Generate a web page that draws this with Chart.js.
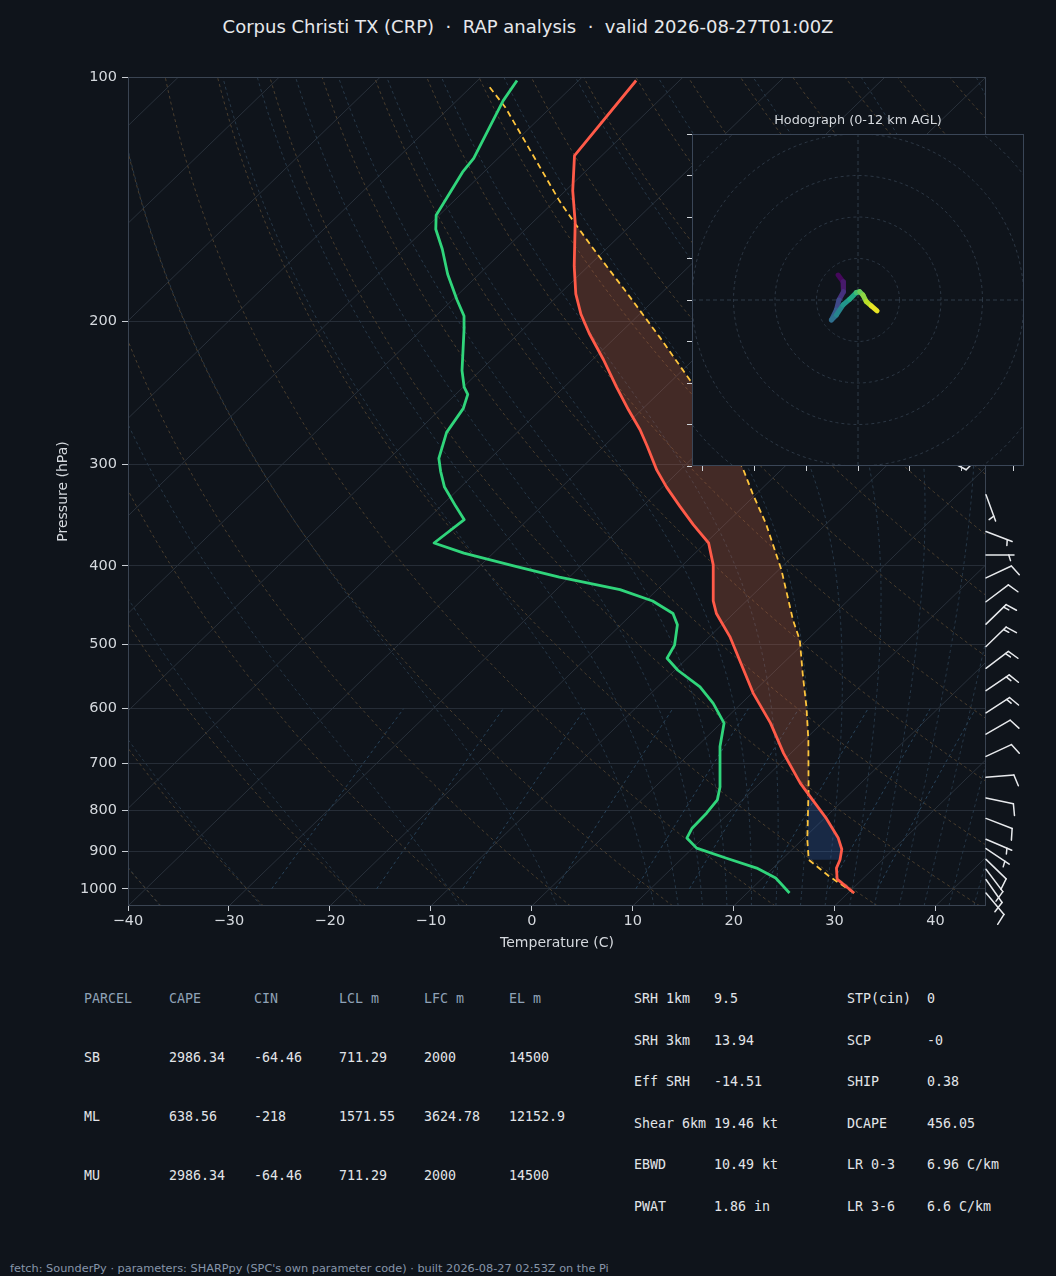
<!DOCTYPE html>
<html>
<head>
<meta charset="utf-8">
<script src="https://cdn.jsdelivr.net/npm/chart.js@4.4.1/dist/chart.umd.min.js"></script>
<style>
  html,body{margin:0;padding:0;background:#0f141b;}
  body{width:1056px;height:1276px;position:relative;overflow:hidden;font-family:"DejaVu Sans",sans-serif;}
  .t{position:absolute;white-space:pre;line-height:16px;}
  .mono{font-family:"DejaVu Sans Mono",monospace;font-size:13.3px;}
  canvas{position:absolute;}
</style>
</head>
<body>
<div id="title" class="t" style="left:0;width:1056px;text-align:center;top:16px;line-height:22px;font-size:18px;color:#e6e8eb;">Corpus Christi TX (CRP)  ·  RAP analysis  ·  valid 2026-08-27T01:00Z</div>
<canvas id="skew" width="1056" height="960" style="left:0;top:0;width:1056px;height:960px;"></canvas>
<div id="hodoTitle" class="t" style="left:692px;width:332px;text-align:center;top:112px;font-size:12.8px;color:#d5d9de;">Hodograph (0-12 km AGL)</div>
<canvas id="hodo" width="400" height="380" style="left:652px;top:110px;width:400px;height:380px;"></canvas>
<div id="tables"></div>
<div id="footer" class="t" style="left:10px;top:1262px;line-height:14px;font-size:11.3px;color:#8796aa;">fetch: SounderPy · parameters: SHARPpy (SPC's own parameter code) · built 2026-08-27 02:53Z on the Pi</div>
<script>
// ================= DATA =================
// Environmental temperature (hPa, °C)
const envP = [1012,973,943,921,894,866,819,763,741,681,625,574,523,489,458,442,399,375,356,338,320,305,285,272,257,241,223,207,196,185,171,151,138,125,101];
const envT = [30.6,27.5,26.3,25.8,24.9,23.4,20.2,15.8,14.0,9.3,4.9,0.1,-4.6,-8.0,-11.7,-13.3,-17.0,-19.7,-23.1,-26.3,-29.6,-32.3,-35.7,-38.1,-41.3,-44.8,-48.9,-53.0,-55.8,-58.4,-61.4,-65.8,-69.3,-72.7,-74.3];
// Dewpoint (hPa, °C)
const dwpP = [1012,970,943,917,891,866,842,807,777,748,668,625,591,564,538,520,501,473,458,442,428,413,401,386,375,351,338,320,306,295,274,256,246,241,230,203,197,188,175,163,154,148,131,126,107,101];
const dwpT = [24.2,21.3,18.4,14.4,10.4,8.4,7.9,7.8,7.5,6.4,2.3,0.3,-2.8,-5.8,-9.7,-12.0,-12.6,-14.4,-16.0,-19.3,-23.7,-31.0,-36.3,-42.9,-46.9,-46.3,-48.5,-51.6,-53.6,-55.1,-57.0,-57.8,-58.8,-59.9,-61.8,-66.1,-67.2,-69.6,-73.1,-76.2,-78.9,-80.3,-82.1,-82.4,-85.4,-86.1];
// Surface-based parcel path (hPa, °C)
const parP = [1012,965,921,870,755,656,597,543,494,467,405,355,326,302,270,238,209,184,163,152,142,109,102];
const parT = [30.6,26.4,22.7,20.5,15.5,10.4,6.8,3.0,-0.7,-3.4,-9.7,-16.0,-20.4,-24.2,-30.7,-37.8,-45.7,-53.6,-61.2,-65.5,-69.6,-84.5,-88.7];
const parcelLclP = 921;
// Wind barbs (hPa, direction deg, speed kt)
const barbP   = [288,327,363,388,414,443,472,503,535,570,607,645,687,729,773,819,869,892,920,946,974,1012];
const barbDir = [225,160,111,90,65,53,46,46,53,56,57,60,65,85,102,111,113,124,134,143,145,140];
const barbSpd = [10,5,5,5,10,10,15,15,15,15,15,10,10,10,10,10,5,5,10,10,10,10];
// Hodograph (u, v, height km)
const hodoU = [-4.8,-3.6,-3.5,-4.6,-5.2,-6.4,-5.2,-3.6,-2.0,-0.4,0.4,1.2,2.0,3.2,4.6];
const hodoV = [6.0,4.4,2.0,0.0,-2.4,-4.8,-3.6,-1.2,0.2,1.8,2.0,1.2,-0.4,-1.4,-2.6];
const hodoH = [0,0.5,1.2,2.2,3.0,3.8,5.0,5.8,6.6,7.8,9.0,9.6,10.3,11.2,12.0];
const hodoRings = [10,20,30,40,50];
const hodoXTicks = [-37.5,-25,-12.5,0,12.5,25,37.5];
const hodoYTicks = [-40,-30,-20,-10,0,10,20,30,40];
// Axis ticks
const pressureTicks = [100,200,300,400,500,600,700,800,900,1000];
const tempTicks = [-40,-30,-20,-10,0,10,20,30,40];
// Background reference lines
const isothermT0 = [-120,-110,-100,-90,-80,-70,-60,-50,-40,-30,-20,-10,0,10,20,30,40];
const dryT0 = [-40,-30,-20,-10,0,10,20,30,40,50,60,70,80,90,100,110,120,130,140,150,160,170,180,190];
const moistT0 = [-50,-40,-30,-20,-10,0,10,12.5,15,17.5,20,22.5,25,27.5,30,32.5,35,37.5,40,42.5,45];
const mixRatios = [0.0004,0.001,0.002,0.004,0.007,0.01,0.016,0.024,0.032];
// Tables
const tblHeader = ['PARCEL','CAPE','CIN','LCL m','LFC m','EL m'];
const parcelNames = ['SB','ML','MU'];
const parcelCape = ['2986.34','638.56','2986.34'];
const parcelCin  = ['-64.46','-218','-64.46'];
const parcelLcl  = ['711.29','1571.55','711.29'];
const parcelLfc  = ['2000','3624.78','2000'];
const parcelEl   = ['14500','12152.9','14500'];
const idxLabelsA = ['SRH 1km','SRH 3km','Eff SRH','Shear 6km','EBWD','PWAT'];
const idxValuesA = ['9.5','13.94','-14.51','19.46 kt','10.49 kt','1.86 in'];
const idxLabelsB = ['STP(cin)','SCP','SHIP','DCAPE','LR 0-3','LR 3-6'];
const idxValuesB = ['0','-0','0.38','456.05','6.96 C/km','6.6 C/km'];

// ================= HELPERS =================
const X_MIN = -40, X_MAX = 45, P_BOT = 1050, P_TOP = 100;
const SKEW = (X_MAX - X_MIN) / Math.log(P_BOT / P_TOP);   // 45° skew in axes units
const skewX = (T, p) => T + SKEW * Math.log(P_BOT / p);
const pts = (P, T) => P.map((p, i) => ({x: skewX(T[i], p), y: p}));
function logSpace(a, b, n) { const r = []; for (let i = 0; i <= n; i++) r.push(Math.exp(Math.log(a) + (Math.log(b) - Math.log(a)) * i / n)); return r; }
function interpP(P, V, p) {
  for (let i = 0; i < P.length - 1; i++) {
    if (p <= P[i] && p >= P[i + 1]) {
      const t = (Math.log(P[i]) - Math.log(p)) / (Math.log(P[i]) - Math.log(P[i + 1]));
      return V[i] + t * (V[i + 1] - V[i]);
    }
  }
  return NaN;
}
// thermodynamics for reference lines
const Rd = 287.04749, Lv = 2.50084e6, Cpd = 1004.6662, EPS = 0.62195, KAPPA = Rd / Cpd;
const es = Tk => { const tc = Tk - 273.15; return 6.112 * Math.exp(17.67 * tc / (tc + 243.5)); };
const rsat = (p, Tk) => { const e = es(Tk); return EPS * e / (p - e); };
const dTdp = (p, Tk) => { const r = rsat(p, Tk); return (Rd * Tk + Lv * r) / (Cpd + Lv * Lv * r * EPS / (Rd * Tk * Tk)) / p; };
function moistLine(t0) {
  const out = [];
  const integ = (pEnd, steps) => {
    let p = 1000, T = t0 + 273.15; const h = (pEnd - 1000) / steps; const arr = [{p, T}];
    for (let i = 0; i < steps; i++) {
      const k1 = dTdp(p, T), k2 = dTdp(p + h / 2, T + h / 2 * k1), k3 = dTdp(p + h / 2, T + h / 2 * k2), k4 = dTdp(p + h, T + h * k3);
      T += h / 6 * (k1 + 2 * k2 + 2 * k3 + k4); p += h; arr.push({p, T});
    }
    return arr;
  };
  const down = integ(1050, 5).reverse();
  const up = integ(100, 180).slice(1);
  down.concat(up).forEach(o => out.push({x: skewX(o.T - 273.15, o.p), y: o.p}));
  return out;
}
const VIRIDIS = ['#440154','#482475','#414487','#355f8d','#2a788e','#21918c','#22a884','#44bf70','#7ad151','#bddf26','#fde725'];
function viridis(t) {
  t = Math.max(0, Math.min(1, t)); const s = t * 10, i = Math.min(9, Math.floor(s)), f = s - i;
  const a = VIRIDIS[i], b = VIRIDIS[i + 1];
  const c = k => Math.round(parseInt(a.substr(k, 2), 16) * (1 - f) + parseInt(b.substr(k, 2), 16) * f);
  return `rgb(${c(1)},${c(3)},${c(5)})`;
}
const tickFmt = v => v < 0 ? '\u2212' + Math.abs(v) : String(v);

Chart.defaults.font.family = '"DejaVu Sans", sans-serif';
Chart.defaults.animation = false;
Chart.defaults.devicePixelRatio = 1;

// ================= SKEW-T =================
const BG_LINE = {showLine: true, pointRadius: 0, borderWidth: 1, fill: false, tension: 0, clip: 0};
const datasets = [];
datasets.push({label: 'Temperature', data: pts(envP, envT), showLine: true, pointRadius: 0, borderColor: '#ff5a48', borderWidth: 2.8, order: 1, borderJoinStyle: 'round'});
datasets.push({label: 'Dewpoint', data: pts(dwpP, dwpT), showLine: true, pointRadius: 0, borderColor: '#30d57b', borderWidth: 2.8, order: 2, borderJoinStyle: 'round'});
const PARCEL_INDEX = datasets.length;
datasets.push({label: 'Parcel', data: pts(parP, parT), showLine: true, pointRadius: 0, borderColor: '#ffc53d', borderWidth: 1.8, borderDash: [6, 4], order: 3});
isothermT0.forEach(t0 => datasets.push(Object.assign({data: [{x: skewX(t0, P_BOT), y: P_BOT}, {x: skewX(t0, P_TOP), y: P_TOP}], borderColor: '#29313b', order: 30}, BG_LINE)));
const pDense = logSpace(P_BOT, P_TOP, 60);
dryT0.forEach(t0 => datasets.push(Object.assign({data: pDense.map(p => ({x: skewX((t0 + 273.15) * Math.pow(p / 1000, KAPPA) - 273.15, p), y: p})), borderColor: '#4a3e2e', borderDash: [3, 3], order: 20}, BG_LINE)));
moistT0.forEach(t0 => datasets.push(Object.assign({data: moistLine(t0), borderColor: '#273848', borderDash: [3, 3], order: 21}, BG_LINE)));
const pMix = logSpace(1000, 600, 20);
mixRatios.forEach(w => datasets.push(Object.assign({data: pMix.map(p => { const e = p * w / (EPS + w); const l = Math.log(e / 6.112); return {x: skewX(243.5 * l / (17.67 - l), p), y: p}; }), borderColor: '#28435a', borderDash: [3, 3], order: 22}, BG_LINE)));

const fillPlugin = {
  id: 'parcelFill',
  beforeDatasetDraw(chart, args) {
    if (args.index !== PARCEL_INDEX) return;
    const {ctx, chartArea: a, scales: {x, y}} = chart;
    // locate LFC and EL by scanning the parcel/environment difference above the LCL
    const scan = logSpace(parcelLclP, 102, 800);
    let lfc = null, el = null;
    for (const p of scan) {
      const d = interpP(parP, parT, p) - interpP(envP, envT, p);
      if (lfc === null && d >= 0) lfc = p;
      else if (lfc !== null && el === null && d < 0) { el = p; break; }
    }
    const poly = (pb, pt, color) => {
      const ps = logSpace(pb, pt, 120);
      ctx.beginPath();
      ps.forEach((p, i) => { const X = x.getPixelForValue(skewX(interpP(parP, parT, p), p)), Y = y.getPixelForValue(p); i ? ctx.lineTo(X, Y) : ctx.moveTo(X, Y); });
      ps.slice().reverse().forEach(p => ctx.lineTo(x.getPixelForValue(skewX(interpP(envP, envT, p), p)), y.getPixelForValue(p)));
      ctx.closePath(); ctx.fillStyle = color; ctx.fill();
    };
    ctx.save();
    ctx.beginPath(); ctx.rect(a.left, a.top, a.right - a.left, a.bottom - a.top); ctx.clip();
    if (lfc && el) poly(lfc, el, 'rgba(205,100,70,0.28)');
    if (lfc) poly(parcelLclP, lfc, 'rgba(60,120,220,0.22)');
    ctx.restore();
  }
};
function drawBarb(ctx, x0, y0, dir, spd) {
  const L = 28, S = 0.125 * L, H = 0.4 * L, W = 0.25 * L;
  const th = dir * Math.PI / 180, dx = Math.sin(th), dy = -Math.cos(th), nx = Math.cos(th), ny = Math.sin(th);
  let s = Math.round(spd / 5) * 5;
  const flags = Math.floor(s / 50); s -= flags * 50;
  const full = Math.floor(s / 10); s -= full * 10;
  const half = s >= 5;
  const P = (a, h) => [x0 + dx * a + nx * h, y0 + dy * a + ny * h];
  ctx.beginPath(); ctx.moveTo(x0, y0); ctx.lineTo(...P(L, 0)); ctx.stroke();
  let off = L;
  for (let i = 0; i < flags; i++) {
    ctx.beginPath(); ctx.moveTo(...P(off, 0)); ctx.lineTo(...P(off - W / 2, H)); ctx.lineTo(...P(off - W, 0)); ctx.closePath(); ctx.fill();
    off -= W + S;
  }
  for (let i = 0; i < full; i++) {
    ctx.beginPath(); ctx.moveTo(...P(off, 0)); ctx.lineTo(...P(off + W / 2, H)); ctx.stroke();
    off -= S;
  }
  if (half) {
    if (off === L) off -= 1.5 * S;
    ctx.beginPath(); ctx.moveTo(...P(off, 0)); ctx.lineTo(...P(off + W / 4, H / 2)); ctx.stroke();
  }
}
const barbPlugin = {
  id: 'barbs',
  afterDraw(chart) {
    const {ctx, chartArea: a, scales: {y}} = chart;
    ctx.save();
    ctx.strokeStyle = '#e8eaed'; ctx.fillStyle = '#e8eaed'; ctx.lineWidth = 1.5; ctx.lineCap = 'round';
    barbP.forEach((p, i) => drawBarb(ctx, a.right, y.getPixelForValue(p), barbDir[i], barbSpd[i]));
    ctx.restore();
  }
};
const frame = color => ({
  id: 'frame',
  afterDatasetsDraw(chart) {
    const {ctx, chartArea: a} = chart;
    ctx.save(); ctx.strokeStyle = color; ctx.lineWidth = 1;
    ctx.strokeRect(Math.round(a.left) + 0.5, Math.round(a.top) + 0.5, Math.round(a.right - a.left) - 1, Math.round(a.bottom - a.top) - 1);
    ctx.restore();
  }
});

new Chart(document.getElementById('skew'), {
  type: 'scatter',
  data: {datasets},
  plugins: [fillPlugin, frame('#3a4452'), barbPlugin],
  options: {
    responsive: false, events: [],
    layout: {padding: {left: 0, top: 77, right: 70, bottom: 0}},
    plugins: {legend: {display: false}, tooltip: {enabled: false}},
    scales: {
      x: {
        type: 'linear', position: 'bottom', min: X_MIN, max: X_MAX,
        afterBuildTicks: s => { s.ticks = tempTicks.map(v => ({value: v})); },
        afterFit: s => { s.height = 54; },
        ticks: {color: '#d5d9de', font: {size: 14.5}, padding: 2, maxRotation: 0, autoSkip: false, callback: v => tickFmt(v)},
        grid: {drawOnChartArea: false, drawTicks: true, tickLength: 5, tickColor: '#c9ced4', color: '#c9ced4'},
        border: {display: false},
        title: {display: true, text: 'Temperature (C)', color: '#d5d9de', font: {size: 14}, padding: {top: 0, bottom: 8.6}}
      },
      y: {
        type: 'logarithmic', position: 'left', min: P_TOP, max: P_BOT, reverse: true,
        afterBuildTicks: s => { s.ticks = pressureTicks.map(v => ({value: v})); },
        afterFit: s => { s.width = 128; },
        ticks: {color: '#d5d9de', font: {size: 14.5}, padding: 5, autoSkip: false, callback: v => String(v)},
        grid: {color: '#262d37', tickLength: 6, tickColor: '#c9ced4', lineWidth: 1},
        border: {display: false},
        title: {display: true, text: 'Pressure (hPa)', color: '#d5d9de', font: {size: 14}, padding: {top: 55, bottom: 0}}
      }
    }
  }
});

// ================= HODOGRAPH =================
const hodoDatasets = [];
hodoRings.forEach(r => {
  const d = []; for (let k = 0; k <= 180; k++) { const a = k / 180 * 2 * Math.PI; d.push({x: r * Math.cos(a), y: r * Math.sin(a)}); }
  hodoDatasets.push({data: d, showLine: true, pointRadius: 0, borderColor: '#2c3744', borderWidth: 1, borderDash: [3, 3], order: 10});
});
hodoDatasets.push({data: [{x: -40, y: 0}, {x: 40, y: 0}], showLine: true, pointRadius: 0, borderColor: '#2f3a48', borderWidth: 1, borderDash: [4, 3], order: 9});
hodoDatasets.push({data: [{x: 0, y: -40}, {x: 0, y: 40}], showLine: true, pointRadius: 0, borderColor: '#2f3a48', borderWidth: 1, borderDash: [4, 3], order: 9});
hodoDatasets.push({
  data: hodoU.map((u, i) => ({x: u, y: hodoV[i]})), showLine: true, pointRadius: 0, borderWidth: 5,
  borderCapStyle: 'round', borderJoinStyle: 'round', order: 1,
  segment: {borderColor: c => viridis((hodoH[c.p0DataIndex] + hodoH[c.p1DataIndex]) / 2 / 12)}
});
const hodoBg = {
  id: 'hodoBg',
  beforeDraw(chart) {
    const {ctx, chartArea: a} = chart;
    ctx.save(); ctx.fillStyle = '#0f141b'; ctx.fillRect(a.left, a.top, a.right - a.left, a.bottom - a.top); ctx.restore();
  }
};
new Chart(document.getElementById('hodo'), {
  type: 'scatter',
  data: {datasets: hodoDatasets},
  plugins: [hodoBg, frame('#3a4657')],
  options: {
    responsive: false, events: [],
    layout: {padding: {left: 0, top: 24, right: 28, bottom: 0}},
    plugins: {legend: {display: false}, tooltip: {enabled: false}},
    scales: {
      x: {
        type: 'linear', min: -40, max: 40,
        afterBuildTicks: s => { s.ticks = hodoXTicks.map(v => ({value: v})); },
        afterFit: s => { s.height = 24; },
        ticks: {callback: () => '', padding: 0},
        grid: {drawOnChartArea: false, tickLength: 5, tickColor: '#d0d4d9', color: '#d0d4d9'},
        border: {display: false}
      },
      y: {
        type: 'linear', min: -40, max: 40,
        afterBuildTicks: s => { s.ticks = hodoYTicks.map(v => ({value: v})); },
        afterFit: s => { s.width = 40; },
        ticks: {callback: () => '', padding: 0},
        grid: {drawOnChartArea: false, tickLength: 5, tickColor: '#d0d4d9', color: '#d0d4d9'},
        border: {display: false}
      }
    }
  }
});

// ================= TABLES =================
const tables = document.getElementById('tables');
function put(text, x, yc, color) {
  const d = document.createElement('div');
  d.className = 't mono'; d.textContent = text;
  d.style.left = x + 'px'; d.style.top = (yc - 8) + 'px'; d.style.color = color;
  tables.appendChild(d);
}
const colX = [84, 169, 254, 339, 424, 509];
tblHeader.forEach((h, i) => put(h, colX[i], 999, '#8fa2b7'));
parcelNames.forEach((n, r) => {
  const yc = 1058 + r * 59;
  [n, parcelCape[r], parcelCin[r], parcelLcl[r], parcelLfc[r], parcelEl[r]].forEach((v, i) => put(v, colX[i], yc, '#e2e5e9'));
});
idxLabelsA.forEach((l, r) => {
  const yc = 999 + r * 41.6;
  put(l, 634, yc, '#e2e5e9'); put(idxValuesA[r], 714, yc, '#e2e5e9');
  put(idxLabelsB[r], 847, yc, '#e2e5e9'); put(idxValuesB[r], 927, yc, '#e2e5e9');
});
</script>
</body>
</html>
